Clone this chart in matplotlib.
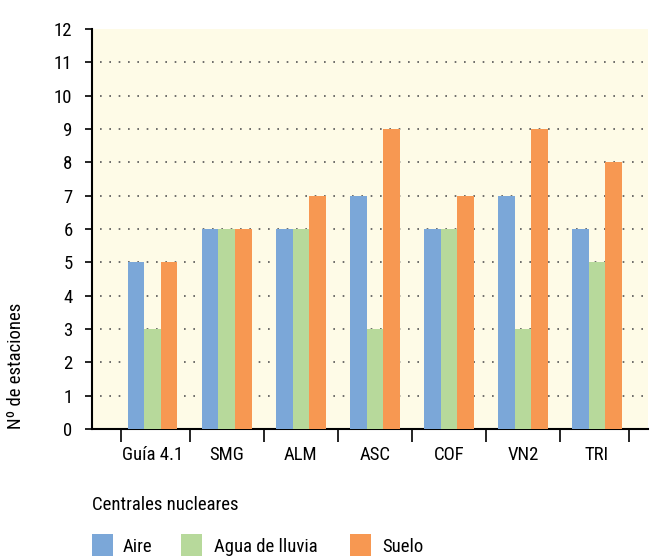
import matplotlib
matplotlib.use("Agg")
import matplotlib.pyplot as plt
from matplotlib.patches import Rectangle
import numpy as np

plt.rcParams['font.family'] = ['Roboto Condensed', 'DejaVu Sans']

categories = ["Guía 4.1", "SMG", "ALM", "ASC", "COF", "VN2", "TRI"]
aire = [5, 6, 6, 7, 6, 7, 6]
agua = [3, 6, 6, 3, 6, 3, 5]
suelo = [5, 6, 7, 9, 7, 9, 8]
series_names = ["Aire", "Agua de lluvia", "Suelo"]
colors = ["#7BA7D8", "#B7D99B", "#F79852"]
sep_ticks = [-0.43, 0.5, 1.5, 2.5, 3.5, 4.5, 5.5, 6.44]

W, H = 652, 556
fig = plt.figure(figsize=(W/100, H/100), dpi=100)
ax = fig.add_axes([92/W, 1-429/H, 556/W, 400/H])
ax.set_facecolor("#FEFBE7")

x = np.arange(len(categories))
w = 0.223
for i, (vals, c) in enumerate(zip([aire, agua, suelo], colors)):
    ax.bar(x + (i-1)*w, vals, w, color=c, linewidth=0, zorder=3)

ax.set_xlim(-0.82, 6.69)
ax.set_ylim(0, 12)
ax.set_yticks(range(0, 13))
ax.tick_params(axis='y', labelsize=13.5, length=5, width=1.2, pad=9)
for y in range(1, 12):
    ax.plot([-0.71, 6.69], [y, y], color="#555555", lw=1.2, ls=(0, (1, 4.6)), zorder=1)

ax.set_xticks(x)
ax.set_xticklabels(categories, fontsize=13.5)
ax.tick_params(axis='x', length=0, pad=12)
ax.set_xticks(sep_ticks, minor=True)
ax.tick_params(axis='x', which='minor', length=9, width=1.2, direction='out')

for s in ['top', 'right']:
    ax.spines[s].set_visible(False)
for s in ['left', 'bottom']:
    ax.spines[s].set_linewidth(1.5)

fig.text(16/W, 1-366/H, "Nº de estaciones", rotation=90, ha='center', va='center', fontsize=13.5)
fig.text(92/W, 1-505/H, "Centrales nucleares", ha='left', va='center', fontsize=13.5)

# legend drawn manually
patch_x = [92, 181, 350]
text_x = [123, 214, 382]
for px, tx, c, n in zip(patch_x, text_x, colors, series_names):
    fig.patches.append(Rectangle((px/W, 0), 21/W, 22/H, transform=fig.transFigure,
                                 facecolor=c, edgecolor='none'))
    fig.text(tx/W, 1-547/H, n, ha='left', va='center', fontsize=13.5)

fig.savefig("out.png", dpi=100)
